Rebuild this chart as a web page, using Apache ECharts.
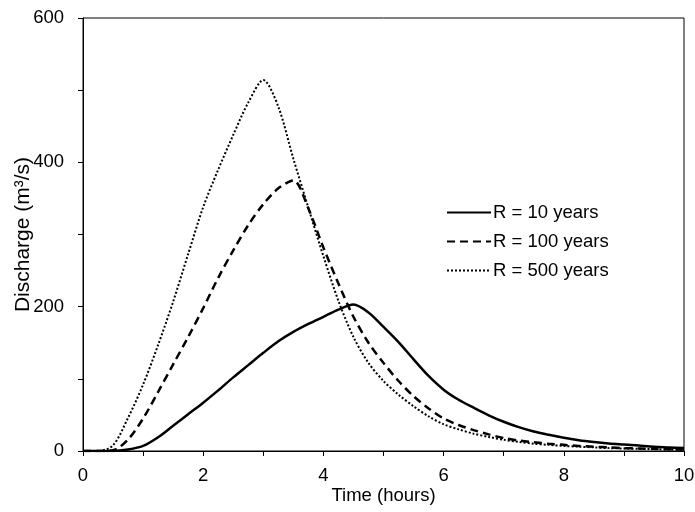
<!DOCTYPE html>
<html>
<head>
<meta charset="utf-8">
<script src="https://cdn.jsdelivr.net/npm/echarts@6/dist/echarts.min.js"></script>
<style>
html,body{margin:0;padding:0;background:#fff;}
#chart{width:695px;height:512px;}
</style>
</head>
<body>
<div id="chart"></div>
<script>
var times = [0,0.25,0.5,0.75,1,1.25,1.5,1.75,2,2.25,2.5,2.75,3,3.25,3.5,3.75,4,4.25,4.5,4.75,5,5.25,5.5,5.75,6,6.25,6.5,6.75,7,7.25,7.5,7.75,8,8.25,8.5,8.75,9,9.25,9.5,9.75,10];
var r10 = [0,0,0,2,7,19,35,51,67,84,102,119,136,152,165,176,186,196,203,192,172,151,127,104,85,71,60,49.5,40.5,33,27,22.5,18.5,15,12.5,10.5,9,7.5,6,5,4];
var r100 = [0,0,1,16,45,82,120,158,198,240,278,313,342,364,375,336,282,232,186,150,122,97,76,59,45,36,29,23,18,14.5,12,10,8.5,7,6,5,4,3.5,3,2.5,2];
var r500 = [0,0,8,46,92,147,207,273,338,390,438,483,514,477,405,337,270,208,158,122,97,78,62,48,37,30,24,19.5,15.5,12.5,10,8.5,7,6,5,4,3.5,3,2.5,2,1.5];
var seriesNames = ['R = 10 years','R = 100 years','R = 500 years'];
var xTicks = [0,2,4,6,8,10];
var yTicks = [0,200,400,600];

function pairs(v){ return times.map(function(t,i){ return [t, v[i]]; }); }
var font = 'Liberation Sans, Arial, sans-serif';
var chart = echarts.init(document.getElementById('chart'));
chart.setOption({
  animation:false,
  backgroundColor:'#fff',
  grid:{left:83,right:11,top:18,bottom:61,show:true,borderColor:'#000',borderWidth:1,
        containLabel:false,outerBoundsMode:'none'},
  legend:{
    orient:'vertical', left:446, top:203, padding:0, itemWidth:44, itemHeight:14, itemGap:10,
    itemStyle:{color:'rgba(0,0,0,0)',borderWidth:0,opacity:0},
    textStyle:{fontFamily:font,fontSize:18.5,color:'#000',padding:[0,0,0,-3]},
    data:seriesNames
  },
  xAxis:{
    type:'value', min:0, max:10, interval:1,
    name:'Time (hours)', nameLocation:'middle', nameGap:35, nameMoveOverlap:false,
    nameTextStyle:{fontFamily:font,fontSize:18.5,color:'#000'},
    axisLine:{lineStyle:{color:'#000',width:1}},
    axisTick:{show:true,inside:false,length:5,lineStyle:{color:'#000'}},
    axisLabel:{fontFamily:font,fontSize:18.5,color:'#000',margin:15,
      formatter:function(v){ return xTicks.indexOf(v)>=0 ? String(v) : ''; }},
    splitLine:{show:false}
  },
  yAxis:{
    type:'value', min:0, max:600, interval:100,
    name:'Discharge (m³/s)', nameLocation:'middle', nameGap:49, nameMoveOverlap:false,
    nameTextStyle:{fontFamily:font,fontSize:21,color:'#000'},
    axisLine:{show:true,lineStyle:{color:'#000',width:1}},
    axisTick:{show:true,inside:false,length:5,lineStyle:{color:'#000'}},
    axisLabel:{fontFamily:font,fontSize:18.5,color:'#000',margin:19,
      formatter:function(v){ return yTicks.indexOf(v)>=0 ? String(v) : ''; }},
    splitLine:{show:false}
  },
  series:[
    {name:seriesNames[0],type:'line',data:pairs(r10),smooth:0.3,symbol:'none',
     lineStyle:{color:'#000',width:2.5,type:'solid'},itemStyle:{color:'#000'}},
    {name:seriesNames[1],type:'line',data:pairs(r100),smooth:0.3,symbol:'none',
     lineStyle:{color:'#000',width:2.5,type:[8,5]},itemStyle:{color:'#000'}},
    {name:seriesNames[2],type:'line',data:pairs(r500),smooth:0.3,symbol:'none',
     lineStyle:{color:'#000',width:2,type:[2,2]},itemStyle:{color:'#000'}}
  ]
});
</script>
</body>
</html>
